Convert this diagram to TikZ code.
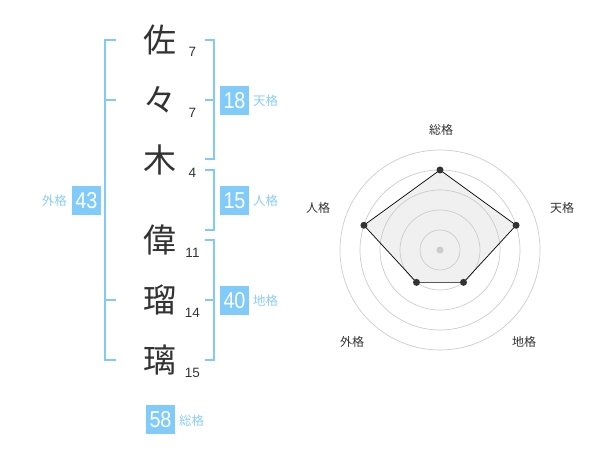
\documentclass[tikz,border=0pt]{standalone}
\usepackage{fontspec}
\setmainfont{Liberation Sans}
\newfontfamily\cjk{Noto Sans CJK JP}
\newfontfamily\numfont[FakeStretch=0.86]{Liberation Sans}
\definecolor{brk}{HTML}{82CAF6}
\definecolor{boxc}{HTML}{80CBF9}
\definecolor{lblc}{HTML}{8ACDF6}
\definecolor{ink}{HTML}{333333}
\definecolor{ring}{HTML}{CCCCCC}
\definecolor{area}{HTML}{F0F0F0}
\begin{document}
\begin{tikzpicture}[x=1pt,y=-1pt,
  kanji/.style={inner sep=0pt,text=ink,font=\cjk\fontsize{33}{33}\selectfont},
  stroke/.style={inner sep=0pt,text=ink,font=\fontsize{13.5}{13.5}\selectfont},
  valbox/.style={fill=boxc,text=white,minimum size=29pt,inner sep=0pt,font=\numfont\fontsize{23}{23}\selectfont},
  kaku/.style={inner sep=0pt,text=lblc,font=\cjk\fontsize{12.5}{12.5}\selectfont},
  bracket/.style={draw=brk,line width=2pt},
  axislbl/.style={inner sep=0pt,text=ink,font=\cjk\fontsize{12}{12}\selectfont},
  dot/.style={circle,fill=ink,inner sep=0pt,minimum size=7pt}]
\useasboundingbox (0,0) rectangle (600,470);
% characters
\node[kanji] (c1) at (160,40) {佐};
\node[kanji] (c2) at (160,100) {々};
\node[kanji] (c3) at (160,160) {木};
\node[kanji] (c4) at (160,240) {偉};
\node[kanji] (c5) at (160,300) {瑠};
\node[kanji] (c6) at (160,360) {璃};
% stroke counts
\node[stroke] (n1) at (192.5,52) {7};
\node[stroke] (n2) at (192.5,113) {7};
\node[stroke] (n3) at (192.5,173) {4};
\node[stroke] (n4) at (192.5,253) {11};
\node[stroke] (n5) at (192.5,313) {14};
\node[stroke] (n6) at (192.5,373) {15};
% brackets
\draw[bracket] (116,40) -- (105,40) -- (105,360) -- (116,360);
\draw[bracket] (105,100) -- (116,100);
\draw[bracket] (105,300) -- (116,300);
\draw[bracket] (205,40) -- (214,40) -- (214,159) -- (205,159);
\draw[bracket] (205,100) -- (214,100);
\draw[bracket] (205,170) -- (214,170) -- (214,230) -- (205,230);
\draw[bracket] (205,240) -- (214,240) -- (214,360) -- (205,360);
\draw[bracket] (205,300) -- (214,300);
% value boxes
\node[valbox] (b18) at (234.5,100.5) {18};
\node[kaku,anchor=west] (k18) at (253,101) {天格};
\node[valbox] (b15) at (234.5,200.5) {15};
\node[kaku,anchor=west] (k15) at (253,201) {人格};
\node[valbox] (b40) at (234.5,300.5) {40};
\node[kaku,anchor=west] (k40) at (253,301) {地格};
\node[valbox] (b43) at (86.5,200.5) {43};
\node[kaku,anchor=east] (k43) at (67,201) {外格};
\node[valbox] (b58) at (160.5,419.5) {58};
\node[kaku,anchor=west] (k58) at (179,421) {総格};
% radar chart
\begin{scope}[x=1pt,y=1pt,shift={(440pt,-250pt)}]
  \coordinate (p1) at (90:80);
  \coordinate (p2) at (18:80);
  \coordinate (p3) at (-54:40);
  \coordinate (p4) at (-126:40);
  \coordinate (p5) at (162:80);
  \fill[area] (p1) -- (p2) -- (p3) -- (p4) -- (p5) -- cycle;
  \foreach \r in {20,40,60,80,100} \draw[ring,line width=0.7pt] (0,0) circle (\r);
  \draw[black,line width=0.7pt] (p1) -- (p2) -- (p3) -- (p4) -- (p5) -- cycle;
  \node[circle,fill=ring,inner sep=0pt,minimum size=7pt] (ctr) at (0,0) {};
  \foreach \i in {1,...,5} \node[dot] (d\i) at (p\i) {};
  \node[axislbl] (a1) at (1,120) {総格};
  \node[axislbl] (a2) at (122,42) {天格};
  \node[axislbl] (a3) at (84,-92) {地格};
  \node[axislbl] (a4) at (-88,-92) {外格};
  \node[axislbl] (a5) at (-122,42) {人格};
\end{scope}
\end{tikzpicture}
\end{document}
